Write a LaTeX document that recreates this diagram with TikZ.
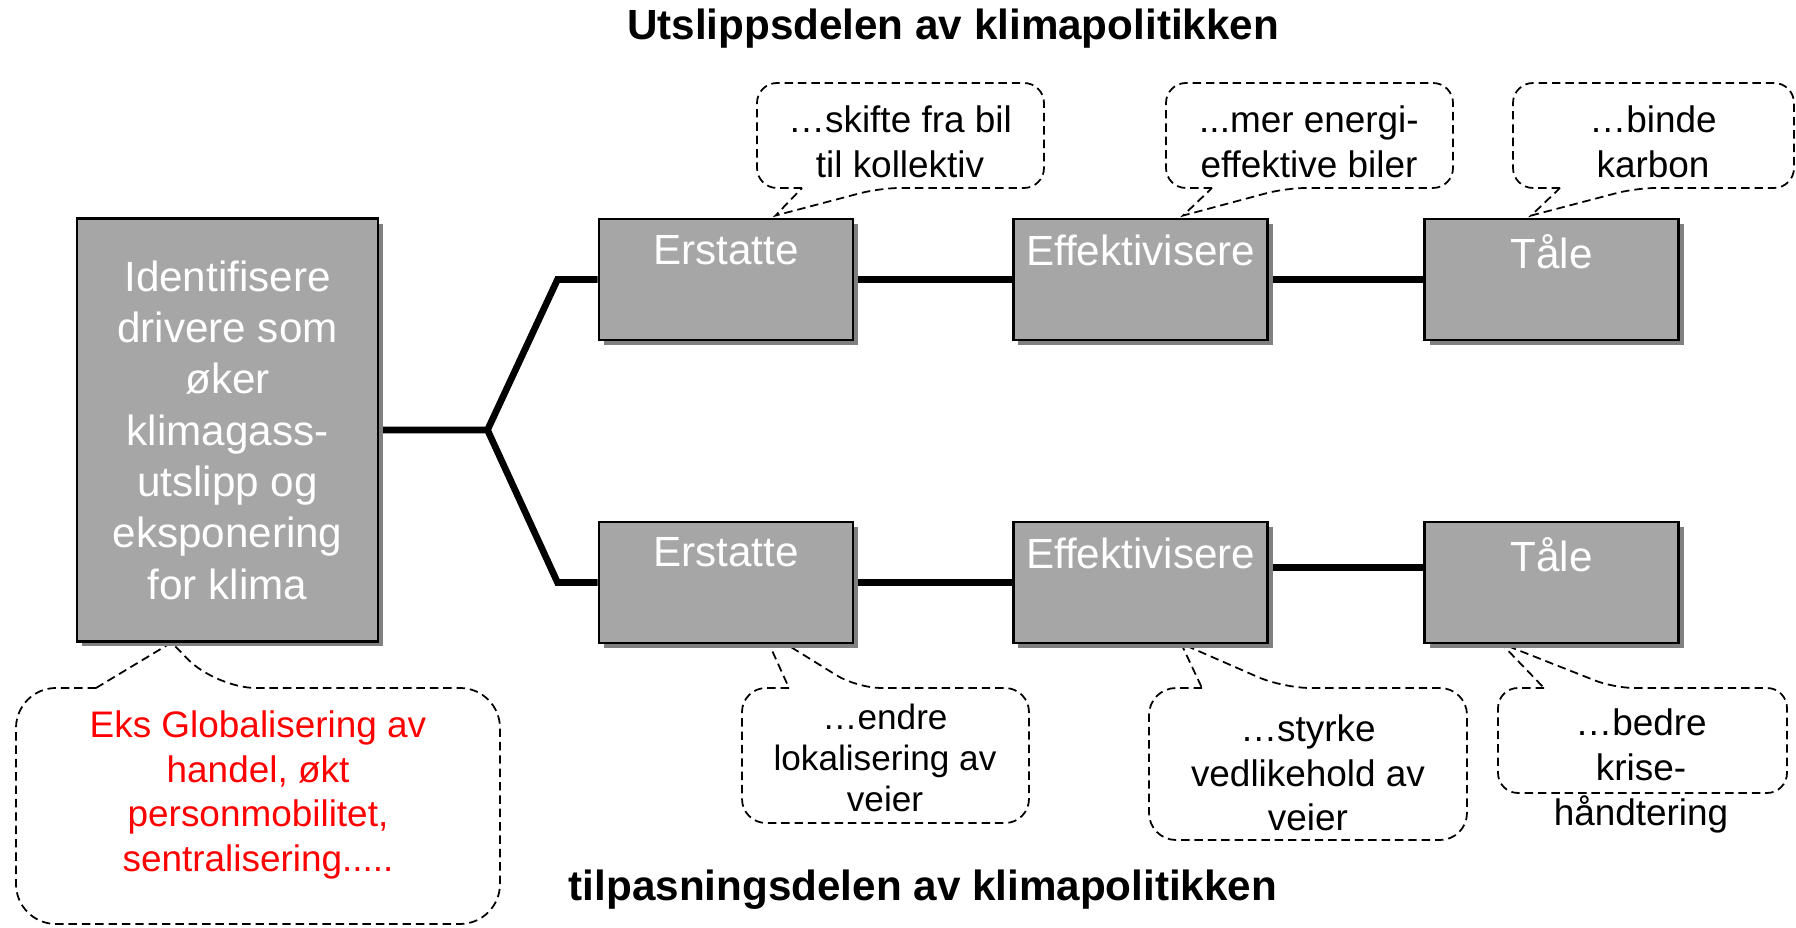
\documentclass[tikz,border=0pt]{standalone}
\usepackage{fontspec}
\setmainfont{Liberation Sans}
\usepackage{tikz}
\usetikzlibrary{calc,positioning,shadows}
\definecolor{boxgray}{RGB}{166,166,166}
\definecolor{boxshade}{RGB}{128,128,128}
\definecolor{exred}{RGB}{255,0,0}
\pgfdeclarelayer{background}
\pgfsetlayers{background,main}

% speech bubble, pointer on its lower edge: [radius]{x1}{y1}{x2}{y2}{base left}{base right}{tip}
\newcommand{\talkdown}[8][2mm]{%
  \draw[talk] (#6,#5) [rounded corners=#1] -- (#2,#5) -- (#2,#3) -- (#4,#3) -- (#4,#5) -- (#7,#5) [sharp corners] -- (#8) -- cycle;}
% speech bubble, pointer on its upper edge
\newcommand{\talkup}[8][2mm]{%
  \draw[talk] (#6,#3) [rounded corners=#1] -- (#2,#3) -- (#2,#5) -- (#4,#5) -- (#4,#3) -- (#7,#3) [sharp corners] -- (#8) -- cycle;}

\begin{document}
\begin{tikzpicture}[
  x=0.01cm, y=-0.01cm,
  font=\fontsize{12}{14.6}\selectfont,
  box/.style={draw, line width=0.8pt, fill=boxgray, inner sep=0pt, minimum width=2.54cm, minimum height=1.21cm,
    drop shadow={shadow xshift=0.05cm, shadow yshift=-0.05cm, fill=boxshade, opacity=1}},
  boxlabel/.style={anchor=north, text=white, yshift=-0.05cm},
  wire/.style={line width=1.9pt},
  talk/.style={line width=0.5pt, dash pattern=on 2.4pt off 1.4pt},
  note/.style={align=center, font=\fontsize{10.5}{12.7}\selectfont},
  heading/.style={font=\bfseries\fontsize{12}{14}\selectfont}
]
\useasboundingbox (0,0) rectangle (1796,928);

\node[heading] (utslipp) at (953,29) {Utslippsdelen av klimapolitikken};
\node[heading] (tilpasning) at (923,890) {tilpasningsdelen av klimapolitikken};

\node[box, minimum width=3.01cm, minimum height=4.22cm, text=white, align=center] (drv) at (227.5,430)
  {Identifisere\\drivere som\\øker\\klimagass-\\utslipp og\\eksponering\\for klima};

% upper row
\node[box, label={[boxlabel]north:Erstatte}] (er1) at (726,279.5) {};
\node[box, right=1.575cm of er1, label={[boxlabel]north:Effektivisere}] (ef1) {};
\node[box, right=1.54cm of ef1, label={[boxlabel]north:Tåle}] (ta1) {};
% lower row
\node[box, below=1.79cm of er1, label={[boxlabel]north:Erstatte}] (er2) {};
\node[box, right=1.575cm of er2, label={[boxlabel]north:Effektivisere}] (ef2) {};
\node[box, right=1.54cm of ef2, label={[boxlabel]north:Tåle}] (ta2) {};

% bubble texts
\node[note] (n1) at (900,142) {…skifte fra bil\\til kollektiv};
\node[note] (n2) at (1309,142) {...mer energi-\\effektive biler};
\node[note] (n3) at (1653,142) {…binde\\karbon};
\node[note, font=\fontsize{10}{11.6}\selectfont] (n4) at (885,758) {…endre\\lokalisering av\\veier};
\node[note] (n5) at (1308,773) {…styrke\\vedlikehold av\\veier};
\node[note] (n6) at (1641,771) {…bedre\\krise-\\håndtering};
\node[note, text=exred] (n0) at (258,795) {Eks Globalisering av\\handel, økt\\personmobilitet,\\sentralisering.....};

\begin{pgfonlayer}{background}
\draw[wire] (drv.east) -- ++(108,0) coordinate (fork) -- ($(er1.west)+(-40,0)$) -- (er1.west);
\draw[wire] (fork) -- ($(er2.west)+(-40,0)$) -- (er2.west);
\draw[wire] (er1.east) -- (ef1.west);
\draw[wire] (ef1.east) -- (ta1.west);
\draw[wire] (er2.east) -- (ef2.west);
\draw[wire] ($(ef2.east)+(0,-15)$) -- ($(ta2.west)+(0,-15)$);

\talkdown{757}{83}{1044}{188}{802}{880}{$(er1.north west)+(178,-2)$}
\talkdown{1166}{83}{1453}{188}{1212}{1286}{$(ef1.north west)+(171,-2)$}
\talkdown{1513}{83}{1794}{188}{1560}{1636}{$(ta1.north west)+(108,-2)$}
\talkup[2.4mm]{742}{688}{1029}{823}{789}{857}{$(er2.south west)+(165,-15)$}
\talkup[2.7mm]{1149}{688}{1467}{840}{1202}{1283}{$(ef2.south west)+(169,-1)$}
\talkup{1498}{688}{1787}{793}{1544}{1614}{$(ta2.south west)+(78,-1)$}
\talkup[4mm]{16}{688}{500}{924}{96}{216}{$(drv.south west)+(96,0)$}
\end{pgfonlayer}
\end{tikzpicture}
\end{document}
